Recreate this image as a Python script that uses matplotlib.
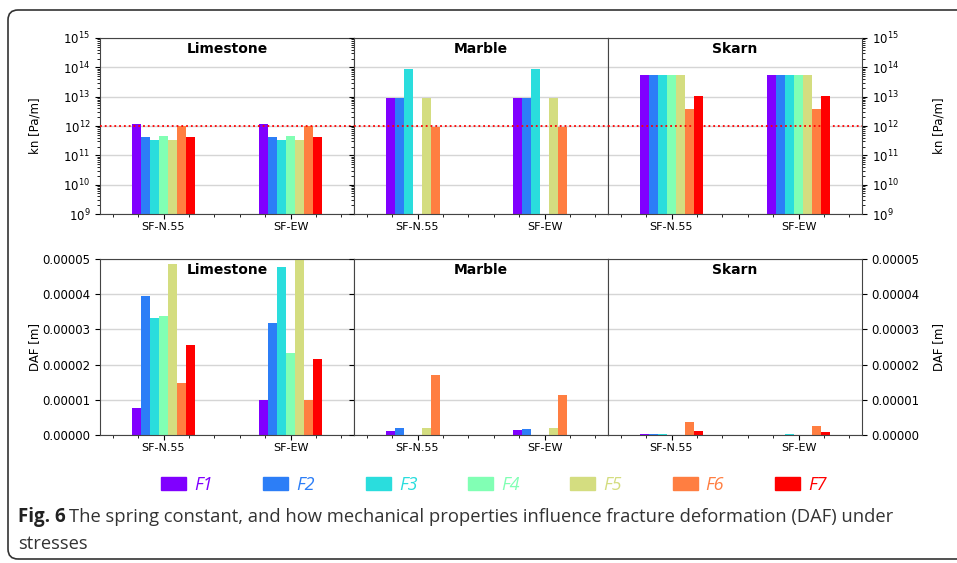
import numpy as np
import matplotlib
matplotlib.use("Agg")
import matplotlib.pyplot as plt
from matplotlib.ticker import MultipleLocator, FormatStrFormatter
from matplotlib.patches import Patch, FancyBboxPatch

nan = np.nan

# data
faults = ["SF-N.55", "SF-EW"]
rocks = ["Limestone", "Marble", "Skarn"]
series = ["F1", "F2", "F3", "F4", "F5", "F6", "F7"]

# normal stiffness kn [Pa/m], one row per fault (SF-N.55, SF-EW)
kn_limestone = [[1.2e12, 4.2e11, 3.3e11, 4.4e11, 3.3e11, 1.0e12, 4.2e11],
                [1.2e12, 4.2e11, 3.3e11, 4.4e11, 3.3e11, 1.0e12, 4.2e11]]
kn_marble = [[9e12, 9e12, 9e13, nan, 9e12, 9e11, nan],
             [9e12, 9e12, 9e13, nan, 9e12, 9e11, nan]]
kn_skarn = [[5.6e13, 5.6e13, 5.6e13, 5.6e13, 5.6e13, 3.9e12, 1.05e13],
            [5.6e13, 5.6e13, 5.6e13, 5.6e13, 5.6e13, 3.9e12, 1.05e13]]
kn_threshold = 1e12

# DAF [m]
daf_limestone = [[7.8e-6, 3.94e-5, 3.32e-5, 3.38e-5, 4.85e-5, 1.48e-5, 2.56e-5],
                 [9.9e-6, 3.19e-5, 4.78e-5, 2.32e-5, 5.2e-5, 9.9e-6, 2.15e-5]]
daf_marble = [[1.1e-6, 2.1e-6, 1e-7, 1e-7, 2.1e-6, 1.71e-5, 0.0],
              [1.4e-6, 1.6e-6, 1e-7, 1e-7, 2.1e-6, 1.14e-5, 0.0]]
daf_skarn = [[2e-7, 3e-7, 2e-7, 1e-7, 1e-7, 3.6e-6, 1.0e-6],
             [1e-7, 1e-7, 2e-7, 1e-7, 1e-7, 2.5e-6, 0.95e-6]]

caption_bold = "Fig. 6"
caption_1 = "The spring constant, and how mechanical properties influence fracture deformation (DAF) under"
caption_2 = "stresses"

colors = plt.cm.rainbow(np.linspace(0, 1, len(series)))
cap_font = ["Open Sans", "DejaVu Sans"]

fig = plt.figure(figsize=(9.57, 5.63), dpi=100)

W, H = 957, 563
def px_axes(x0, y0, x1, y1):
    return fig.add_axes([x0 / W, 1 - y1 / H, (x1 - x0) / W, (y1 - y0) / H])

edges = [100, 354, 608, 862]
top_axes = [px_axes(edges[i], 38, edges[i + 1], 214) for i in range(3)]
bot_axes = [px_axes(edges[i], 259, edges[i + 1], 435) for i in range(3)]

w = 0.5 / len(series)
x = np.arange(len(faults))


def draw(ax, data, i):
    data = np.array(data)
    for j in range(len(series)):
        ax.bar(x + (j - 3) * w, data[:, j], width=w, color=colors[j], zorder=2)
    ax.set_xlim(-0.5, 1.5)
    ax.set_xticks(x)
    ax.set_xticklabels(faults, fontsize=8)
    ax.xaxis.set_minor_locator(MultipleLocator(0.2))
    ax.tick_params(axis="x", which="major", pad=2, length=3.5)
    ax.tick_params(axis="y", labelsize=8.5)
    ax.yaxis.grid(True, color="#d5d5d5", lw=1, zorder=0)
    ax.set_axisbelow(True)
    for s in ax.spines.values():
        s.set_color("#444444")
    ax.text(0.5, 0.94, rocks[i], transform=ax.transAxes, ha="center", va="center",
            fontsize=10, fontweight="bold")
    if i == 1:
        ax.tick_params(axis="y", which="both", labelleft=False)
    if i == 2:
        ax.yaxis.tick_right()


for i, (ax, d) in enumerate(zip(top_axes, [kn_limestone, kn_marble, kn_skarn])):
    ax.set_yscale("log")
    draw(ax, d, i)
    ax.set_ylim(1e9, 1e15)
    ax.set_yticks([1e9, 1e10, 1e11, 1e12, 1e13, 1e14, 1e15])
    ax.axhline(kn_threshold, color="red", ls=":", lw=1.3, zorder=3)

for i, (ax, d) in enumerate(zip(bot_axes, [daf_limestone, daf_marble, daf_skarn])):
    draw(ax, d, i)
    ax.set_ylim(0, 5e-5)
    ax.set_yticks(np.arange(0, 5.01e-5, 1e-5))
    ax.yaxis.set_major_formatter(FormatStrFormatter("%.5f"))

for ax, lab in [(top_axes[0], "kn [Pa/m]"), (bot_axes[0], "DAF [m]")]:
    ax.set_ylabel(lab, fontsize=8.5)
    ax.yaxis.set_label_coords(-0.232, 0.5)
for ax, lab in [(top_axes[2], "kn [Pa/m]"), (bot_axes[2], "DAF [m]")]:
    ax.yaxis.set_label_position("right")
    ax.set_ylabel(lab, fontsize=8.5, rotation=90)
    ax.yaxis.set_label_coords(1.276, 0.5)

handles = [Patch(color=c) for c in colors]
fig.legend(handles, series, loc="center", bbox_to_anchor=(0.516, 0.139), ncol=7,
           frameon=False, prop=dict(family=cap_font, style="italic", size=13),
           labelcolor=colors, handlelength=1.39, handleheight=0.78,
           handletextpad=0.45, columnspacing=2.8)

fig.text(18 / W, 1 - 521.7 / H, caption_bold, fontsize=13.5, fontweight="bold",
         family=cap_font, va="baseline", color="#222222")
fig.text(69 / W, 1 - 521.7 / H, caption_1, fontsize=13.2,
         family=cap_font, va="baseline", color="#333333")
fig.text(18 / W, 1 - 549 / H, caption_2, fontsize=13.2,
         family=cap_font, va="baseline", color="#333333")

frame = FancyBboxPatch((8, 4), 990, 549, boxstyle="round,pad=0,rounding_size=10",
                       transform=None, fill=False, lw=1.2, ec="#333333")
fig.patches.append(frame)

fig.savefig("out.png", dpi=100)
